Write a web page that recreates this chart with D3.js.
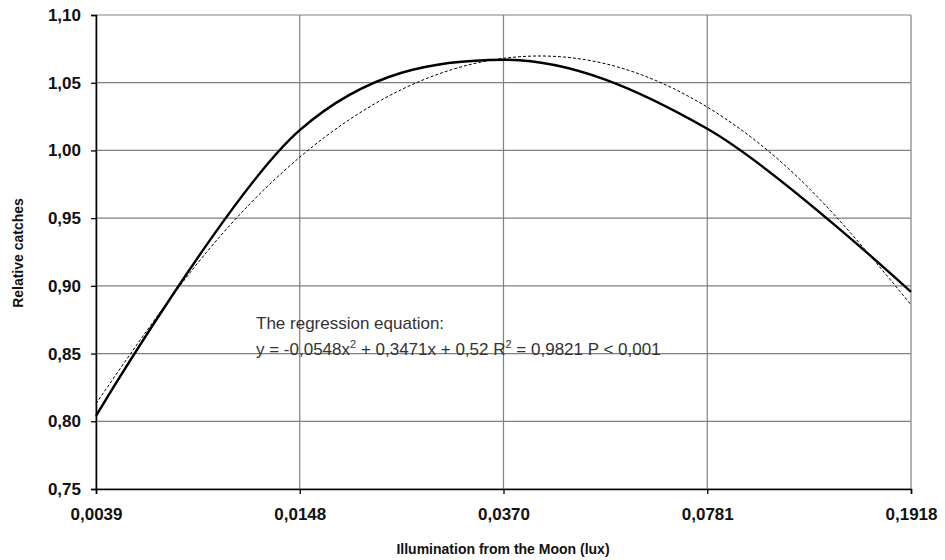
<!DOCTYPE html>
<html><head><meta charset="utf-8">
<script src="https://cdn.jsdelivr.net/npm/d3@7"></script>
<style>body{margin:0;background:#fff}svg{display:block}</style>
</head><body>
<svg id="c" width="945" height="560"></svg>
<script>
const categories = ["0,0039","0,0148","0,0370","0,0781","0,1918"];
const observed = [0.804, 1.015, 1.067, 1.016, 0.8955];
// regression trend at half-category steps
const trendX = [1, 1.5, 2, 2.5, 3, 3.5, 4, 4.5, 5];
const trendY = [0.813, 0.917, 0.995, 1.045, 1.068, 1.064, 1.032, 0.972, 0.886];
const yTicks = [0.75, 0.80, 0.85, 0.90, 0.95, 1.00, 1.05, 1.10];

const svg = d3.select("#c");
const m = {l:96, r:911, t:15, b:489};
const x = d3.scaleLinear().domain([1,5]).range([m.l, m.r]);
const y = d3.scaleLinear().domain([0.75,1.10]).range([m.b, m.t]);
const fmt = v => d3.format(".2f")(v).replace(".", ",");
const font = "Liberation Sans, Arial, sans-serif";

// grid
svg.append("g").selectAll("line.h").data(yTicks).join("line")
  .attr("x1", m.l).attr("x2", m.r).attr("y1", d=>y(d)).attr("y2", d=>y(d))
  .attr("stroke", "#808080").attr("stroke-width", 1.2);
svg.append("g").selectAll("line.v").data(d3.range(1,6)).join("line")
  .attr("x1", d=>x(d)).attr("x2", d=>x(d)).attr("y1", m.t).attr("y2", m.b)
  .attr("stroke", "#808080").attr("stroke-width", 1.2);

// axes
const yAxis = d3.axisLeft(y).tickValues(yTicks).tickFormat(fmt).tickSize(5).tickPadding(10);
const gy = svg.append("g").attr("transform", `translate(${m.l},0)`).call(yAxis);
const xAxis = d3.axisBottom(x).tickValues(d3.range(1,6)).tickFormat((d,i)=>categories[i]).tickSize(5).tickPadding(14);
const gx = svg.append("g").attr("transform", `translate(0,${m.b})`).call(xAxis);
[gx, gy].forEach(g => {
  g.select(".domain").attr("stroke", "#000").attr("stroke-width", 1.5);
  g.selectAll(".tick line").attr("stroke", "#000").attr("stroke-width", 1.3);
  g.selectAll("text").attr("font-family", font).attr("font-size", 17).attr("font-weight", "bold").attr("fill", "#111");
});

// lines
svg.append("path").datum(trendX.map((d,i)=>[d, trendY[i]]))
  .attr("d", d3.line().x(d=>x(d[0])).y(d=>y(d[1])).curve(d3.curveNatural))
  .attr("fill", "none").attr("stroke", "#000").attr("stroke-width", 1).attr("stroke-dasharray", "3,2");
svg.append("path").datum(observed.map((d,i)=>[i+1, d]))
  .attr("d", d3.line().x(d=>x(d[0])).y(d=>y(d[1])).curve(d3.curveCardinal.tension(0)))
  .attr("fill", "none").attr("stroke", "#000").attr("stroke-width", 2.4);

// equation text
svg.append("text").attr("font-family", font).attr("font-size", 17).attr("fill", "#333")
  .attr("x", 256).attr("y", 329).text("The regression equation:");
const l2 = svg.append("text").attr("font-family", font).attr("font-size", 17).attr("fill", "#333")
  .attr("x", 256).attr("y", 355);
l2.append("tspan").text("y = -0,0548x");
l2.append("tspan").attr("dy", -7).attr("font-size", 11).text("2");
l2.append("tspan").attr("dy", 7).text(" + 0,3471x + 0,52 R");
l2.append("tspan").attr("dy", -7).attr("font-size", 11).text("2");
l2.append("tspan").attr("dy", 7).text(" = 0,9821 P < 0,001");

// axis titles
svg.append("text").attr("x", 503).attr("y", 554).attr("text-anchor", "middle")
  .attr("font-family", font).attr("font-size", 14).attr("font-weight", "bold").attr("fill", "#111")
  .text("Illumination from the Moon (lux)");
svg.append("text").attr("transform", "translate(23,253) rotate(-90)").attr("text-anchor", "middle")
  .attr("font-family", font).attr("font-size", 14).attr("font-weight", "bold").attr("fill", "#111")
  .text("Relative catches");
</script>
</body></html>
